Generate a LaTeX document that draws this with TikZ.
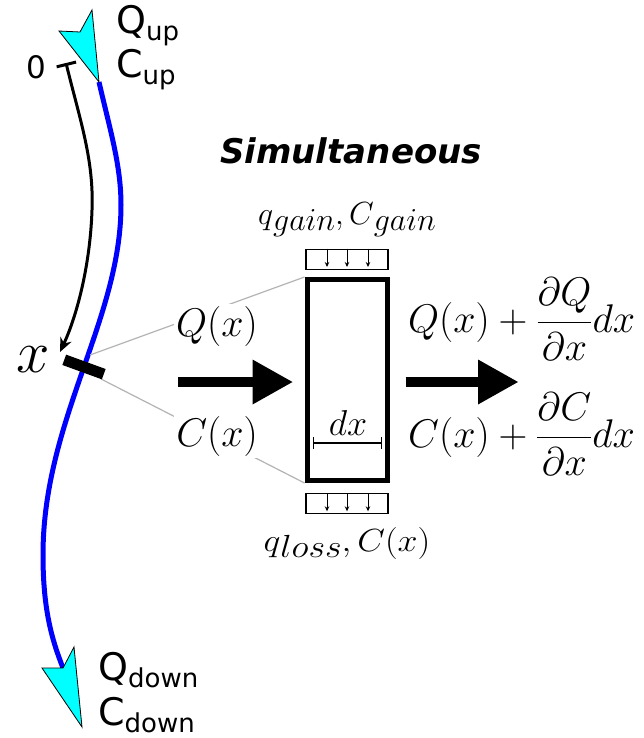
\RequirePackage{fix-cm}
\documentclass[tikz,border=0pt]{standalone}
\usepackage{amsmath}
\usepackage{graphicx}
\usepackage{fontspec}
\usetikzlibrary{arrows.meta,positioning,calc}
\newfontfamily\labelfont{DejaVu Sans}
\definecolor{rivblue}{HTML}{0000FF}
\definecolor{rivcyan}{HTML}{00FFFF}
\definecolor{linkgray}{HTML}{B3B3B3}
\newcommand{\flowtext}[2]{#1\raisebox{-7pt}{\fontsize{26}{26}\selectfont #2}}
\newcommand{\lowsub}[1]{\raisebox{-6pt}{$#1$}}

\begin{document}
\begin{tikzpicture}[x=1pt, y=-1pt,
  mathlbl/.style={font=\fontsize{40}{48}\selectfont, inner sep=0pt},
  loadlbl/.style={font=\fontsize{32}{38}\selectfont, inner sep=0pt},
  flowlbl/.style={font=\labelfont\fontsize{38}{43}\selectfont, inner sep=0pt, anchor=base west},
  loadbox/.style={draw, line width=1.3pt, minimum width=82pt, minimum height=20pt, inner sep=0pt},
  loadarrow/.style={line width=0.9pt, -{Stealth[length=5pt,width=4.5pt]}},
  bigarrow/.style={line width=10pt, -{Triangle[length=40pt,width=45pt,line width=0pt]}},
  linkline/.style={draw=linkgray, line width=1.2pt},
  headfill/.style={fill=rivcyan, draw=black, line width=0.8pt, line join=miter}]
  \useasboundingbox (0,0) rectangle (644,738);
  \coordinate (upend) at (99,82);
  \coordinate (downend) at (63,668);
  \draw[rivblue, line width=5pt] (upend) .. controls (110,130) and (121,165) .. (121,205)
    .. controls (121,320) and (43,420) .. (43,555) .. controls (43,610) and (52,640) .. (downend);
  \filldraw[headfill] (upend) -- (92,10) -- (80,32) -- (59,31) -- cycle;
  \filldraw[headfill] (82,727) -- (74,647) -- (downend) -- (42,668) -- cycle;
  \node[flowlbl] (qup) at (116,34) {\flowtext{Q}{up}};
  \node[flowlbl] (cup) at (116,78) {\flowtext{C}{up}};
  \node[flowlbl] (qdown) at (98,680) {\flowtext{Q}{down}};
  \node[flowlbl] (cdown) at (98,725) {\flowtext{C}{down}};
  \node[font=\labelfont\fontsize{31}{31}\selectfont, inner sep=0pt] (zero) at (36,67) {0};
  \node[font=\fontsize{60}{60}\selectfont, inner sep=0pt] (xlbl) at (33,360) {$x$};
  \node[font=\labelfont\bfseries\itshape\fontsize{34}{40}\selectfont, anchor=base] (title) at (351,164) {Simultaneous};
  \node[draw, line width=5pt, minimum width=80pt, minimum height=201pt, inner sep=0pt] (cell) at (347,380) {};
  \node[loadbox, above=7pt of cell] (gain) {};
  \node[loadbox, below=10pt of cell] (loss) {};
  \foreach \dx in {-20,0,21} {
    \draw[loadarrow] ([xshift=\dx pt]gain.north) -- ([xshift=\dx pt,yshift=3pt]gain.south);
    \draw[loadarrow] ([xshift=\dx pt]loss.north) -- ([xshift=\dx pt,yshift=3pt]loss.south);
  }
  \node[loadlbl, above=12pt of gain] (gainlbl) {$q\lowsub{gain},C\lowsub{gain}$};
  \node[loadlbl, below=13pt of loss] (losslbl) {\scalebox{1.12}[1]{$q\lowsub{loss},C(x)$}};
  \coordinate (secTop) at (90,355);
  \coordinate (secBot) at (101,379);
  \draw[linkline] (secTop) -- (cell.north west);
  \draw[linkline] (secBot) -- (cell.south west);
  \node[mathlbl, fill=white, inner sep=2pt] (qin) at (217,326) {$Q(x)$};
  \node[mathlbl, fill=white, inner sep=2pt] (cin) at (217,436) {$C(x)$};
  \node[mathlbl, anchor=west] (qout) at (408,319) {$Q(x)+\dfrac{\partial Q}{\partial x}dx$};
  \node[mathlbl, anchor=west] (cout) at (408,434) {$C(x)+\dfrac{\partial C}{\partial x}dx$};
  \coordinate (barL) at (313,443);
  \coordinate (barR) at (382,443);
  \draw[line width=1.3pt, {Bar[width=12pt]}-{Bar[width=12pt]}] (barL) -- (barR);
  \node[font=\fontsize{36}{40}\selectfont, inner sep=0pt, anchor=base] (dxlbl) at (348,435) {$dx$};
  \coordinate (inflow) at (178,382);
  \coordinate (outflow) at (518,382);
  \draw[bigarrow] (inflow) -- ([xshift=-12pt,yshift=-2pt]cell.west);
  \draw[bigarrow] ([xshift=16pt,yshift=-2pt]cell.east) -- (outflow);
  \node[fill=black, minimum width=42pt, minimum height=11pt, inner sep=0pt, rotate=-20] (sec) at (84,367) {};
  \coordinate (origin) at (66,63);
  \coordinate (xpos) at (60,352);
  \draw[line width=3pt, {Bar[width=20pt]}-{Stealth[length=14pt,width=12pt]}] (origin)
    .. controls (80,120) and (94,160) .. (92,210) .. controls (90,270) and (75,320) .. (xpos);
\end{tikzpicture}
\end{document}
